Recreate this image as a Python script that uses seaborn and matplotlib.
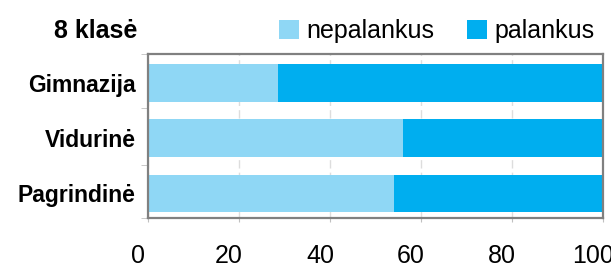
import pandas as pd
import seaborn as sns
import matplotlib.pyplot as plt
import matplotlib.transforms as mtransforms
from matplotlib.patches import Patch

# data
schools = ['Gimnazija', 'Vidurinė', 'Pagrindinė']
nepalankus = [28.5, 56, 54]
palankus = [100 - v for v in nepalankus]
x_ticks = [0, 20, 40, 60, 80, 100]

light = '#8FD7F5'
dark = '#00AEEF'

df = pd.DataFrame({'school': schools, 'nepalankus': nepalankus, 'palankus': palankus})
df['total'] = df['nepalankus'] + df['palankus']

sns.set_style('white')
plt.rcParams['font.family'] = ['Liberation Sans', 'DejaVu Sans']
plt.rcParams['text.color'] = 'black'
plt.rcParams['xtick.color'] = 'black'
plt.rcParams['ytick.color'] = 'black'

fig = plt.figure(figsize=(6.11, 2.64), dpi=100)
ax = fig.add_axes([148 / 611, 1 - 218 / 264, 455 / 611, 164 / 264])

# stacked bars: full length first, then the lower part on top
sns.barplot(data=df, y='school', x='total', color=dark, orient='h', width=0.68,
            saturation=1, linewidth=0, ax=ax, zorder=3)
sns.barplot(data=df, y='school', x='nepalankus', color=light, orient='h', width=0.68,
            saturation=1, linewidth=0, ax=ax, zorder=3)

ax.set_xlim(0, 100)
ax.set_ylim(2.45, -0.53)
ax.set_xticks(x_ticks)
ax.set_xlabel('')
ax.set_ylabel('')

ax.grid(axis='x', color='#DDDDDD', linestyle=(0, (6, 3)), linewidth=1, zorder=0)
ax.grid(axis='y', visible=False)

for s in ax.spines.values():
    s.set_color('#808080')
    s.set_linewidth(1.6)
    s.set_zorder(4)

ax.tick_params(axis='x', labelsize=18, length=3, color='#C0C0C0', labelcolor='black',
               pad=15.5, bottom=True)
ax.tick_params(axis='y', which='major', labelsize=16.5, length=0, pad=9, labelcolor='black')
ax.set_yticks([-0.53, 0.46, 1.48, 2.45], minor=True)
ax.tick_params(axis='y', which='minor', length=5, color='#C0C0C0', left=True)
for lab in ax.get_yticklabels():
    lab.set_fontweight('bold')

shift = mtransforms.ScaledTranslation(-10 / 100, 0, fig.dpi_scale_trans)
for lab in ax.get_xticklabels():
    lab.set_transform(lab.get_transform() + shift)

fig.text(54 / 611, 1 - 38 / 264, '8 klasė', fontsize=18, fontweight='bold', va='baseline',
         color='black')

handles = [Patch(facecolor=light, edgecolor='none'), Patch(facecolor=dark, edgecolor='none')]
leg = fig.legend(handles, ['nepalankus', 'palankus'], loc='upper left',
                 bbox_to_anchor=(279 / 611, 1 - 19 / 264), ncol=2, frameon=False, fontsize=18,
                 handlelength=0.8, handleheight=0.8, handletextpad=0.3, columnspacing=1.3,
                 borderpad=0, borderaxespad=0)
for t in leg.get_texts():
    t.set_color('black')

fig.savefig('out.png', dpi=100)
